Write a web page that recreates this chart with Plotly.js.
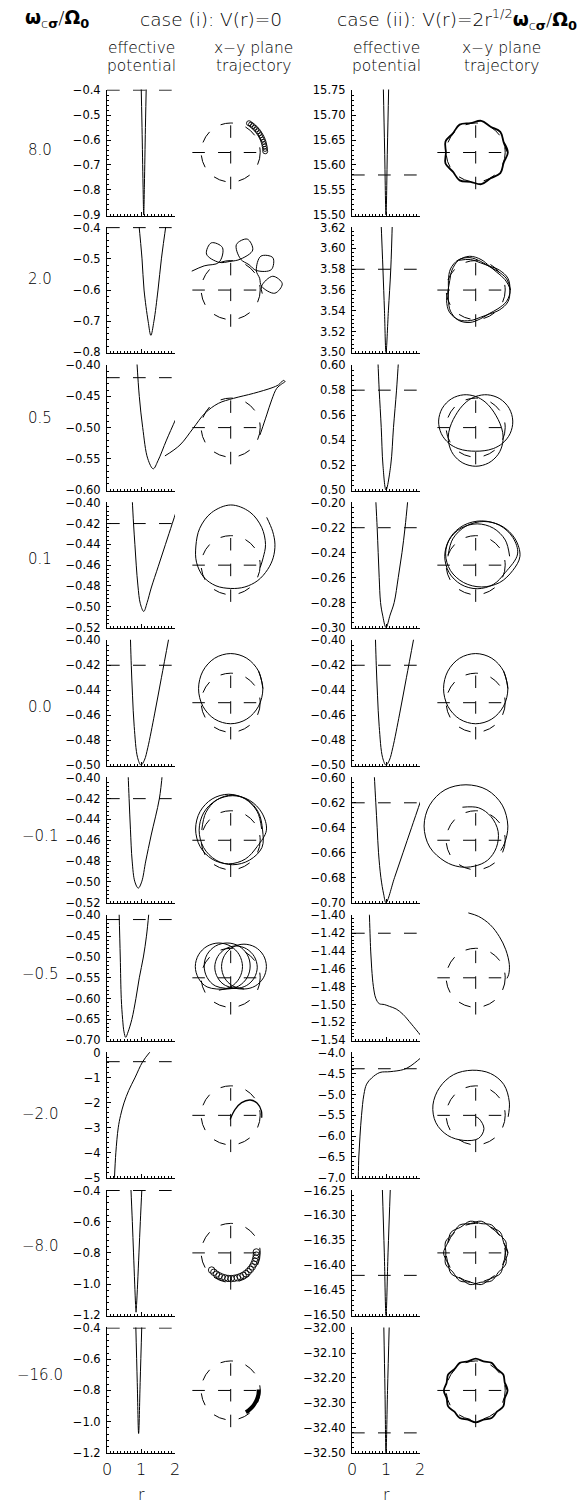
<!DOCTYPE html>
<html>
<head>
<meta charset="utf-8">
<script src="https://cdn.plot.ly/plotly-3.0.1.min.js"></script>
<style>
  body { margin: 0; background: #fff; }
</style>
</head>
<body>
<div id="chart" style="width:582px;height:1504px"></div>
<script>
// ---- values ----
const omegaLabels = ['8.0', '2.0', '0.5', '0.1', '0.0', '\u22120.1', '\u22120.5', '\u22122.0', '\u22128.0', '\u221216.0'];

// y axis limits / tick steps of the effective potential panels
const yMinI  = [-0.9, -0.8, -0.60, -0.52, -0.50, -0.52, -0.70, -5, -1.2, -1.2];
const yMaxI  = [-0.4, -0.4, -0.40, -0.40, -0.40, -0.40, -0.40, 0, -0.4, -0.4];
const yStepI = [0.1, 0.1, 0.05, 0.02, 0.02, 0.02, 0.05, 1, 0.2, 0.2];
const yFmtI  = ['.1f', '.1f', '.2f', '.2f', '.2f', '.2f', '.2f', 'd', '.1f', '.1f'];
const yMinII  = [15.50, 3.50, 0.50, -0.30, -0.50, -0.70, -1.54, -7.0, -16.50, -32.50];
const yMaxII  = [15.75, 3.62, 0.60, -0.20, -0.40, -0.60, -1.40, -4.0, -16.25, -32.00];
const yStepII = [0.05, 0.02, 0.02, 0.02, 0.02, 0.02, 0.02, 0.5, 0.05, 0.10];
const yFmtII  = ['.2f', '.2f', '.2f', '.2f', '.2f', '.2f', '.2f', '.1f', '.2f', '.2f'];

// energy levels (dashed lines)
const energyI  = [-0.40, -0.40, -0.42, -0.42, -0.42, -0.42, -0.41, -0.35, -0.40, -0.40];
const energyII = [15.58, 3.58, 0.58, -0.22, -0.42, -0.62, -1.42, -4.38, -16.42, -32.42];
const rSpan = [0, 2];

// case (i) effective potential curves
const rI_8 = [1.00, 1.03, 1.06, 1.08, 1.10, 1.13, 1.16];
const vI_8 = [-0.35, -0.55, -0.78, -0.90, -0.78, -0.55, -0.35];
const rI_2 = [0.93, 1.03, 1.09, 1.21, 1.29, 1.38, 1.50, 1.60, 1.75];
const vI_2 = [-0.38, -0.50, -0.60, -0.70, -0.745, -0.70, -0.60, -0.50, -0.38];
const rI_05 = [0.88, 0.95, 1.05, 1.20, 1.36, 1.50, 1.75, 2.05];
const vI_05 = [-0.395, -0.45, -0.50, -0.55, -0.566, -0.553, -0.52, -0.483];
const rI_01 = [0.74, 0.78, 0.82, 0.86, 0.91, 0.98, 1.08, 1.18, 1.30, 1.51, 1.72, 1.92, 2.05];
const vI_01 = [-0.395, -0.42, -0.44, -0.46, -0.48, -0.497, -0.5045, -0.496, -0.482, -0.461, -0.44, -0.42, -0.407];
const rI_0 = [0.69, 0.714, 0.75, 0.80, 0.90, 1.0, 1.1, 1.2, 1.4, 1.6, 1.82];
const vI_0 = [-0.399, -0.42, -0.444, -0.469, -0.494, -0.50, -0.496, -0.486, -0.459, -0.430, -0.398];
const rI_m01 = [0.62, 0.65, 0.69, 0.74, 0.82, 0.92, 1.02, 1.14, 1.30, 1.54, 1.63];
const vI_m01 = [-0.395, -0.42, -0.45, -0.48, -0.50, -0.506, -0.50, -0.48, -0.455, -0.42, -0.395];
const rI_m05 = [0.355, 0.39, 0.42, 0.46, 0.50, 0.55, 0.62, 0.73, 0.85, 0.95, 1.07, 1.16, 1.23];
const vI_m05 = [-0.39, -0.50, -0.60, -0.65, -0.68, -0.693, -0.68, -0.65, -0.60, -0.55, -0.50, -0.45, -0.395];
const rI_m2 = [0.22, 0.26, 0.33, 0.40, 0.50, 0.64, 0.82, 1.05, 1.27];
const vI_m2 = [-5.0, -4.0, -3.0, -2.5, -2.0, -1.5, -1.0, -0.35, 0.05];
const rI_m8 = [0.70, 0.745, 0.78, 0.815, 0.84, 0.855, 0.87, 0.90, 0.94, 0.98, 1.03];
const vI_m8 = [-0.37, -0.60, -0.80, -1.00, -1.13, -1.18, -1.13, -1.00, -0.80, -0.60, -0.37];
const rI_m16 = [0.845, 0.89, 0.93, 0.975, 1.025];
const vI_m16 = [-0.37, -0.75, -1.076, -0.75, -0.37];

// case (ii) effective potential curves
const rII_8 = [0.92, 0.96, 1.00, 1.04, 1.08];
const vII_8 = [15.76, 15.63, 15.50, 15.63, 15.76];
const rII_2 = [0.85, 0.91, 0.955, 1.00, 1.07, 1.14, 1.19];
const vII_2 = [3.63, 3.58, 3.54, 3.50, 3.54, 3.58, 3.63];
const rII_05 = [0.76, 0.80, 0.86, 0.91, 1.00, 1.14, 1.22, 1.31, 1.37];
const vII_05 = [0.605, 0.58, 0.55, 0.52, 0.50, 0.52, 0.55, 0.58, 0.605];
const rII_01 = [0.70, 0.74, 0.77, 0.80, 0.84, 0.90, 1.00, 1.12, 1.24, 1.36, 1.47, 1.56, 1.64];
const vII_01 = [-0.198, -0.22, -0.24, -0.26, -0.28, -0.29, -0.30, -0.29, -0.28, -0.26, -0.24, -0.22, -0.198];
const rII_0 = rI_0;
const vII_0 = vI_0;
const rII_m01 = [0.65, 0.70, 0.74, 0.78, 0.85, 0.93, 1.00, 1.25, 1.50, 1.75, 2.05];
const vII_m01 = [-0.595, -0.62, -0.64, -0.66, -0.68, -0.693, -0.70, -0.68, -0.66, -0.64, -0.616];
const rII_m05 = [0.505, 0.53, 0.55, 0.58, 0.63, 0.70, 0.80, 0.95, 1.10, 1.30, 1.50, 1.75, 2.05];
const vII_m05 = [-1.39, -1.42, -1.44, -1.46, -1.48, -1.493, -1.499, -1.50, -1.502, -1.505, -1.511, -1.522, -1.536];
const rII_m2 = [0.185, 0.20, 0.235, 0.28, 0.35, 0.43, 0.58, 0.82, 1.12, 1.51, 1.71, 2.02];
const vII_m2 = [-7.0, -6.5, -6.0, -5.5, -5.0, -4.75, -4.6, -4.47, -4.45, -4.40, -4.32, -4.12];
const rII_m8 = [0.89, 0.95, 1.00, 1.06, 1.13];
const vII_m8 = [-16.24, -16.375, -16.50, -16.375, -16.24];
const rII_m16 = [0.935, 0.97, 1.00, 1.045, 1.095];
const vII_m16 = [-31.99, -32.25, -32.50, -32.25, -31.99];

// x-y trajectories (units of the dashed reference circle)
const refRadius = 1;
const crossX = [-1.30, 1.28];
const crossY = [-1.245, 1.29];

const xI_8 = [0.620, 0.688, 0.752, 0.813, 0.869, 0.922, 0.970, 1.013, 1.052, 1.085, 1.113, 1.135, 1.152, 1.164, 1.169];
const yI_8 = [0.992, 0.947, 0.896, 0.841, 0.783, 0.721, 0.654, 0.585, 0.513, 0.439, 0.362, 0.283, 0.204, 0.122, 0.041];
const xI_2 = [-1.32, -0.90, -0.395, -0.28, -0.657, -0.82, -0.395, -0.03, 0.336, 0.746, 0.563, 0.194, 0.336, 0.62, 0.868, 1.377, 1.429, 1.023, 0.868, 0.98, 1.044, 1.495, 1.747, 1.425, 1.044, 1.07];
const yI_2 = [0.64, 0.82, 0.94, 1.44, 1.60, 1.22, 0.94, 0.97, 1.05, 1.357, 1.726, 1.543, 1.05, 0.86, 0.664, 0.691, 1.097, 1.149, 0.664, 0.40, 0.13, -0.107, 0.215, 0.467, 0.13, -0.12];
const xI_05 = [-2.23, -1.72, -1.27, -0.87, -0.42, 0.09, 0.77, 1.40, 1.62, 1.79, 1.84, 1.73, 1.56, 1.39, 1.22, 1.05, 0.99];
const yI_05 = [-0.96, -0.59, -0.02, 0.49, 0.82, 0.99, 1.16, 1.35, 1.45, 1.60, 1.56, 1.48, 1.33, 0.94, 0.43, -0.08, -0.25];
const xI_01 = [1.22, 1.42, 1.50, 1.44, 1.25, 0.92, 0.48, 0.0, -0.50, -0.92, -1.16, -1.18, -1.05, -0.65, 0.0, 0.65, 1.05, 1.18, 1.10, 1.00];
const yI_01 = [1.62, 1.15, 0.71, 0.25, -0.15, -0.52, -0.74, -0.79, -0.70, -0.40, 0.10, 0.65, 1.25, 1.78, 2.04, 1.80, 1.28, 0.70, 0.25, -0.08];
const xI_0 = [1.09, 0.944, 0.545, 0, -0.545, -0.944, -1.09, -0.944, -0.545, 0, 0.545, 0.944, 1.09, 0.944];
const yI_0 = [0.476, 1.071, 1.507, 1.666, 1.507, 1.071, 0.476, -0.119, -0.555, -0.714, -0.555, -0.119, 0.476, 1.071];
const xI_m01 = [1.05, 0.90, 0.49, -0.07, -0.63, -1.04, -1.19, -1.04, -0.63, -0.07, 0.49, 0.90,
  1.21, 1.06, 0.64, 0.07, -0.50, -0.92, -1.07, -0.92, -0.50, 0.07, 0.64, 1.06,
  1.08, 0.942, 0.565, 0.05, -0.465, -0.842, -0.98];
const yI_m01 = [0.38, 0.97, 1.40, 1.56, 1.40, 0.97, 0.38, -0.21, -0.64, -0.80, -0.64, -0.21,
  0.34, 0.925, 1.353, 1.51, 1.353, 0.925, 0.34, -0.245, -0.673, -0.83, -0.673, -0.245,
  0.35, 0.94, 1.372, 1.53, 1.372, 0.94, 0.35];
const xI_m05 = [-0.40, 0.00, 0.29, 0.40, 0.29, 0.00, -0.40, -0.80, -1.09, -1.20, -1.09, -0.80,
  -0.12, 0.27, 0.56, 0.66, 0.56, 0.27, -0.12, -0.51, -0.80, -0.90, -0.80, -0.51,
  0.18, 0.54, 0.80, 0.90, 0.80, 0.54, 0.18, -0.18, -0.44, -0.54, -0.44, -0.18,
  0.45, 0.83, 1.11, 1.21, 1.11, 0.83, 0.45, 0.07, -0.21, -0.31, -0.21, 0.07, 0.45];
const yI_m05 = [-0.42, -0.31, -0.02, 0.38, 0.78, 1.07, 1.18, 1.07, 0.78, 0.38, -0.02, -0.31,
  -0.38, -0.28, 0.01, 0.40, 0.79, 1.08, 1.18, 1.08, 0.79, 0.40, 0.01, -0.28,
  -0.36, -0.26, 0.00, 0.36, 0.72, 0.98, 1.08, 0.98, 0.72, 0.36, 0.00, -0.26,
  -0.38, -0.28, 0.00, 0.38, 0.76, 1.04, 1.14, 1.04, 0.76, 0.38, 0.00, -0.28, -0.38];
const xI_m2 = [-0.02, 0.15, 0.37, 0.66, 0.90, 1.04, 1.05];
const yI_m2 = [-0.14, 0.20, 0.43, 0.52, 0.41, 0.15, -0.08];
const xI_m8 = [-0.646, -0.571, -0.486, -0.395, -0.298, -0.196, -0.091, 0.015, 0.121, 0.225, 0.326, 0.422, 0.512, 0.593, 0.666, 0.730, 0.782, 0.823, 0.851, 0.867, 0.869];
const yI_m8 = [-0.582, -0.657, -0.721, -0.775, -0.818, -0.847, -0.866, -0.870, -0.861, -0.840, -0.806, -0.761, -0.704, -0.636, -0.559, -0.474, -0.381, -0.284, -0.181, -0.076, 0.030];
const xI_m16 = [0.949, 0.94, 0.894, 0.821, 0.725, 0.609, 0.516];
const yI_m16 = [0.033, -0.132, -0.29, -0.436, -0.567, -0.676, -0.737];

const xBump9a = [1.09, 0.949, 0.835, 0.505, 0.190, -0.175, -0.545, -0.774, -1.024, -1.01, -1.024, -0.774, -0.545, -0.175, 0.190, 0.505, 0.835, 0.949, 1.09, 0.949];
const yBump9a = [0, 0.345, 0.701, 0.875, 1.074, 0.995, 0.944, 0.649, 0.373, 0, -0.373, -0.649, -0.944, -0.995, -1.074, -0.875, -0.701, -0.345, 0, 0.345];
const xBump9b = [1.01, 1.024, 0.774, 0.545, 0.175, -0.190, -0.505, -0.835, -0.949, -1.09, -0.949, -0.835, -0.505, -0.190, 0.175, 0.545, 0.774, 1.024, 1.01];
const yBump9b = [0, 0.373, 0.649, 0.944, 0.995, 1.074, 0.875, 0.701, 0.345, 0, -0.345, -0.701, -0.875, -1.074, -0.995, -0.944, -0.649, -0.373, 0];
const xBump12 = [1.08, 0.985, 0.935, 0.721, 0.54, 0.264, 0, -0.264, -0.54, -0.721, -0.935, -0.985, -1.08, -0.985, -0.935, -0.721, -0.54, -0.264, 0, 0.264, 0.54, 0.721, 0.935, 0.985, 1.08, 0.985];
const yBump12 = [0, 0.264, 0.54, 0.721, 0.935, 0.985, 1.08, 0.985, 0.935, 0.721, 0.54, 0.264, 0, -0.264, -0.54, -0.721, -0.935, -0.985, -1.08, -0.985, -0.935, -0.721, -0.54, -0.264, 0, 0.264];
const xII_2 = [1.18, 1.048, 0.755, 0.46, 0.171, -0.194, -0.59, -0.854, -0.926, -0.92, -0.926, -0.854, -0.59, -0.194, 0.171, 0.46, 0.755, 1.048,
  1.163, 0.987, 0.718, 0.469, 0.182, -0.202, -0.582, -0.804, -0.880, -0.937, -0.987, -0.891, -0.582, -0.182, 0.163, 0.469, 0.804, 1.093,
  1.163, 1.093, 0.804, 0.469, 0.163, -0.182, -0.582];
const yII_2 = [0, 0.381, 0.633, 0.797, 0.970, 1.098, 1.022, 0.717, 0.337, 0, -0.337, -0.717, -1.022, -1.098, -0.970, -0.797, -0.633, -0.381,
  0, 0.359, 0.602, 0.811, 1.034, 1.145, 1.007, 0.675, 0.320, 0, -0.359, -0.748, -1.007, -1.034, -0.923, -0.811, -0.675, -0.398,
  0, 0.398, 0.675, 0.811, 0.923, 1.034, 1.007];
const xII_05 = [1.134, 0.820, 0.405, 0, -0.317, -0.536, -0.693, -0.821, -0.914, -0.914, -0.761, -0.436, 0, 0.436, 0.761, 0.914, 0.914, 0.821, 0.693, 0.536, 0.317, 0, -0.405, -0.820, -1.134, -1.257, -1.165, -0.914, -0.597, -0.285, 0, 0.285, 0.597, 0.914, 1.165, 1.257, 1.134];
const yII_05 = [0.655, 0.977, 1.112, 1.055, 0.872, 0.639, 0.40, 0.145, -0.161, -0.528, -0.906, -1.199, -1.31, -1.199, -0.906, -0.528, -0.161, 0.145, 0.40, 0.639, 0.872, 1.055, 1.112, 0.977, 0.655, 0.222, -0.206, -0.528, -0.711, -0.784, -0.80, -0.784, -0.711, -0.528, -0.206, 0.222, 0.655];
const xII_01 = [1.15, 1.003, 0.60, 0.05, -0.50, -0.903, -1.05, -0.903, -0.50, 0.05, 0.60, 1.003,
  1.42, 1.257, 0.81, 0.20, -0.41, -0.857, -1.02, -0.857, -0.41, 0.20, 0.81, 1.257,
  1.50, 1.337, 0.89, 0.28, -0.33, -0.777, -0.94];
const yII_01 = [0.30, 0.85, 1.253, 1.40, 1.253, 0.85, 0.30, -0.25, -0.653, -0.80, -0.653, -0.25,
  0.38, 0.94, 1.35, 1.50, 1.35, 0.94, 0.38, -0.18, -0.59, -0.74, -0.59, -0.18,
  0.30, 0.89, 1.322, 1.48, 1.322, 0.89, 0.30];
const xII_m01 = [-0.45, 0.10, 0.52, 0.76, 0.70, 0.40, -0.05, -0.55, -1.04, -1.56, -1.75, -1.56, -1.04, -0.33, 0.38, 0.90, 1.09, 0.98, 0.85];
const yII_m01 = [1.12, 1.10, 0.80, 0.30, -0.25, -0.68, -0.88, -0.90, -0.72, -0.23, 0.48, 1.19, 1.71, 1.88, 1.71, 1.19, 0.48, -0.10, -0.35];
const xII_m05 = [-0.25, 0.10, 0.49, 0.80, 1.02, 1.14, 1.12, 1.06];
const yII_m05 = [2.20, 2.08, 1.80, 1.40, 0.95, 0.45, 0.12, -0.02];
const xII_m2 = [1.10, 1.14, 0.95, 0.50, -0.12, -0.75, -1.22, -1.45, -1.35, -0.95, -0.40, 0.10, 0.28, 0.12, 0.0];
const yII_m2 = [-0.05, 0.45, 1.05, 1.42, 1.53, 1.38, 0.95, 0.35, -0.25, -0.68, -0.85, -0.78, -0.45, -0.12, -0.05];

// ---- tables built from the arrays above ----
const potCurves = [
  [[rI_8, vI_8], [rI_2, vI_2], [rI_05, vI_05], [rI_01, vI_01], [rI_0, vI_0], [rI_m01, vI_m01], [rI_m05, vI_m05], [rI_m2, vI_m2], [rI_m8, vI_m8], [rI_m16, vI_m16]],
  [[rII_8, vII_8], [rII_2, vII_2], [rII_05, vII_05], [rII_01, vII_01], [rII_0, vII_0], [rII_m01, vII_m01], [rII_m05, vII_m05], [rII_m2, vII_m2], [rII_m8, vII_m8], [rII_m16, vII_m16]]
];
const yAxes = [
  { min: yMinI, max: yMaxI, step: yStepI, fmt: yFmtI, e: energyI },
  { min: yMinII, max: yMaxII, step: yStepII, fmt: yFmtII, e: energyII }
];
const line = (x, y, w) => ({ x, y, mode: 'lines', w: w || 1 });
const rings = (x, y, s) => ({ x, y, mode: 'markers', s });
const trajs = [
  [[rings(xI_8, yI_8, 5)], [line(xI_2, yI_2)], [line(xI_05, yI_05)], [line(xI_01, yI_01)], [line(xI_0, yI_0)],
   [line(xI_m01, yI_m01)], [line(xI_m05, yI_m05)], [line(xI_m2, yI_m2, 1.3)], [rings(xI_m8, yI_m8, 6.5)], [line(xI_m16, yI_m16, 4)]],
  [[line(xBump9a, yBump9a, 1.8)], [line(xII_2, yII_2)], [line(xII_05, yII_05)], [line(xII_01, yII_01)], [line(xI_0, yI_0)],
   [line(xII_m01, yII_m01)], [line(xII_m05, yII_m05)], [line(xII_m2, yII_m2)], [line(xBump9a, yBump9a), line(xBump9b, yBump9b)], [line(xBump12, yBump12, 1.8)]]
];

// ---- geometry (pixels) ----
const W = 582, H = 1504;
const px = v => v / W;
const py = v => 1 - v / H;
const rowTop0 = 89.5, rowStep = 137.55, panelH = 126;
const potLeft = [107, 352], potRight = [175, 420];
const trajCx = [230.7, 475.7];
const unitPx = 29.5, trajHalf = 70;
const trajR = trajHalf / unitPx;
const FONT = 'DejaVu Sans, Liberation Sans, sans-serif';
const LIGHT = 200;   // thin strokes for the large labels
const REGULAR = 400; // small tick labels stay readable
const dashPot = '12.7px,13.3px';
const dashRef = '12.5px,13.2px';

const traces = [];
const layout = {
  width: W, height: H,
  margin: { l: 0, r: 0, t: 0, b: 0 },
  paper_bgcolor: '#fff', plot_bgcolor: 'rgba(0,0,0,0)',
  showlegend: false, hovermode: false,
  font: { family: FONT, color: '#000', size: 11, weight: REGULAR },
  shapes: [], annotations: []
};
const axId = n => (n === 1 ? '' : String(n));

for (let k = 0; k < 10; k++) {
  const top = rowTop0 + rowStep * k;
  const cy = top + panelH / 2;
  for (let c = 0; c < 2; c++) {
    const nP = 4 * k + 2 * c + 1, nT = nP + 1;
    const ya = yAxes[c];
    const lo = ya.min[k], hi = ya.max[k], pad = (hi - lo) / panelH * 0.6;

    // effective potential panel
    layout['xaxis' + axId(nP)] = {
      domain: [px(potLeft[c]), px(potRight[c])], range: rSpan, anchor: 'y' + axId(nP),
      tickmode: 'linear', tick0: 0, dtick: 1, ticks: 'inside', ticklen: 4, tickcolor: '#000',
      minor: { ticks: 'inside', ticklen: 2, dtick: 0.1, tick0: 0, tickcolor: '#000' },
      showline: true, linecolor: '#000', linewidth: 1, showgrid: false, zeroline: false,
      showticklabels: k === 9, tickfont: { size: 16, weight: LIGHT }, ticklabelstandoff: 1
    };
    layout['yaxis' + axId(nP)] = {
      domain: [py(top + panelH), py(top)], range: [lo - pad, hi + pad], anchor: 'x' + axId(nP),
      tickmode: 'linear', tick0: lo, dtick: ya.step[k], tickformat: ya.fmt[k],
      ticks: 'inside', ticklen: 4, tickcolor: '#000',
      minor: { ticks: 'inside', ticklen: 2, dtick: ya.step[k] / 5, tick0: lo, tickcolor: '#000' },
      showline: true, linecolor: '#000', linewidth: 1, showgrid: false, zeroline: false,
      tickfont: { size: 11.5, weight: REGULAR }, ticklabelstandoff: 3
    };
    const [rr, vv] = potCurves[c][k];
    traces.push({
      x: rr, y: vv, xaxis: 'x' + axId(nP), yaxis: 'y' + axId(nP), mode: 'lines',
      line: { color: '#000', width: 1, shape: 'spline', smoothing: 1 }
    });
    traces.push({
      x: rSpan, y: [ya.e[k], ya.e[k]], xaxis: 'x' + axId(nP), yaxis: 'y' + axId(nP), mode: 'lines',
      line: { color: '#000', width: 1, dash: dashPot }
    });

    // trajectory panel
    const cx = trajCx[c];
    layout['xaxis' + axId(nT)] = {
      domain: [px(cx - trajHalf), px(cx + trajHalf)], range: [-trajR, trajR],
      anchor: 'y' + axId(nT), visible: false, showgrid: false, zeroline: false
    };
    layout['yaxis' + axId(nT)] = {
      domain: [py(cy + trajHalf), py(cy - trajHalf)], range: [-trajR, trajR],
      anchor: 'x' + axId(nT), visible: false, showgrid: false, zeroline: false
    };
    const xr = 'x' + axId(nT), yr = 'y' + axId(nT);
    const refLine = { color: '#000', width: 1, dash: dashRef };
    layout.shapes.push(
      { type: 'circle', xref: xr, yref: yr, x0: -refRadius, x1: refRadius, y0: -refRadius, y1: refRadius, line: refLine },
      { type: 'line', xref: xr, yref: yr, x0: crossX[0], x1: crossX[1], y0: 0, y1: 0, line: refLine },
      { type: 'line', xref: xr, yref: yr, x0: 0, x1: 0, y0: crossY[0], y1: crossY[1], line: refLine }
    );
    trajs[c][k].forEach(t => {
      const tr = { x: t.x, y: t.y, xaxis: xr, yaxis: yr, mode: t.mode };
      if (t.mode === 'lines') tr.line = { color: '#000', width: t.w, shape: 'spline', smoothing: 1 };
      else tr.marker = { symbol: 'circle-open', size: t.s, color: '#000', line: { width: 0.9, color: '#000' } };
      traces.push(tr);
    });
  }
}

// ---- text ----
const note = (x, y, text, size, xanchor) => layout.annotations.push({
  x: px(x), y: py(y), xref: 'paper', yref: 'paper', text, showarrow: false,
  xanchor: xanchor || 'center', yanchor: 'middle', font: { size, family: FONT, color: '#000', weight: LIGHT }
});
const greekRatio = '<b>\u03c9</b><sub>c<b>\u03c3</b></sub>/<b>\u03a9</b><sub><b>0</b></sub>';
note(57, 19, greekRatio, 18.5);
note(211, 19, 'case (i): V(r)=0', 18.5);
note(579, 19, 'case (ii): V(r)=2r<sup>1/2</sup>' + greekRatio, 18.5, 'right');
[141, 386].forEach(x => { note(x, 48, 'effective', 15.5); note(x, 66, 'potential', 15.5); });
[253, 501].forEach(x => { note(x, 48, 'x\u2212y plane', 15.5); note(x, 66, 'trajectory', 15.5); });
const labelY = [150, 279, 417.5, 559, 707, 835.7, 974, 1114, 1245.7, 1375];
omegaLabels.forEach((lab, k) => note(39.5, labelY[k], lab, 15));
[141, 386].forEach(x => note(x, 1494, 'r', 16));

Plotly.newPlot('chart', traces, layout, { staticPlot: true });
</script>
</body>
</html>
